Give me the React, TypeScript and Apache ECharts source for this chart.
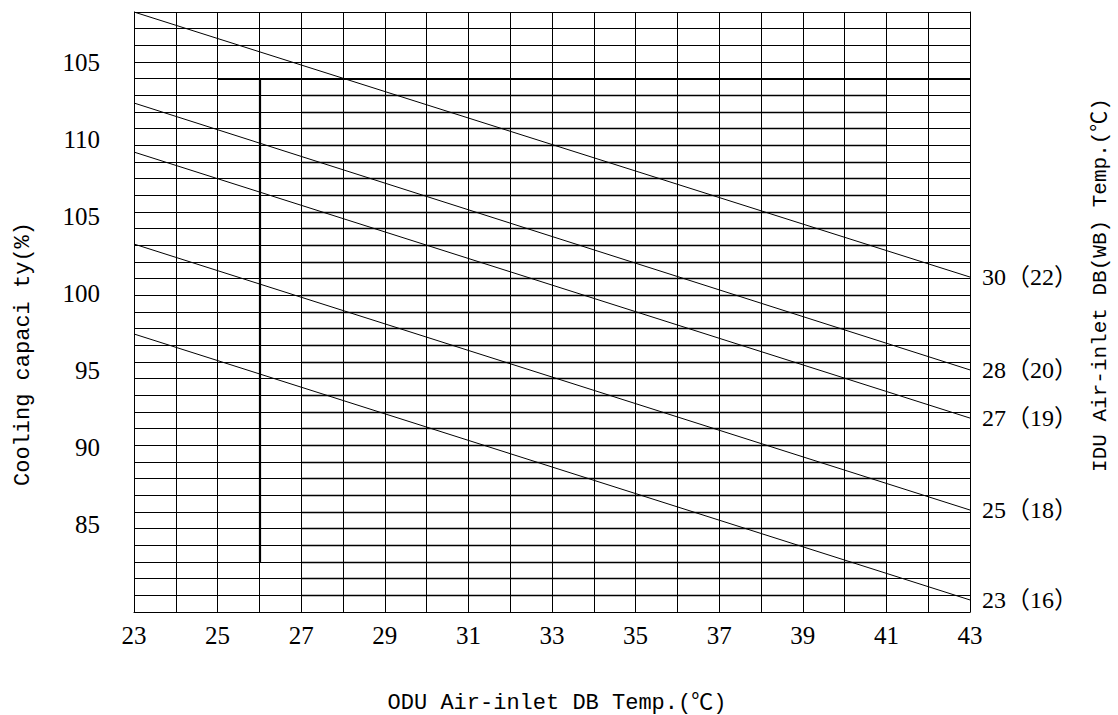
import React, { useEffect, useRef } from "react";
import * as echarts from "echarts";

// ---- data ----
const xMin = 23;
const xMax = 43;
const yMin = 79.36;
const yMax = 118.25;
const yLabelValues = [85, 90, 95, 100, 105, 110, 115];
const yLabelTexts = ["85", "90", "95", "100", "105", "110", "105"];
const curveNames = ["30（22）", "28（20）", "27（19）", "25（18）", "23（16）"];
const curveAtStart = [118.25, 112.35, 109.17, 103.21, 97.38]; // at 23 ℃
const curveAtEnd = [101.07, 95.05, 91.93, 85.97, 80.14]; // at 43 ℃
const gridRows = 36; // number of horizontal grid divisions

// emphasised (thicker) grid segments, in grid units [x1, row1, x2, row2]
const thickSegments: number[][] = [
  [25, 32, 43, 32],
  [26, 3, 26, 32],
];
const innerRowsFrom = 1;
const innerRowsTo = 31;
const innerXFrom = 27;
const innerXTo = 41;

const serif = "'Liberation Serif', 'DejaVu Serif', serif";
const mono = "'Liberation Mono', 'DejaVu Sans Mono', 'Noto Sans CJK SC', monospace";

export default function App() {
  const ref = useRef<HTMLDivElement>(null);
  useEffect(() => {
    if (!ref.current) return;
    const chart = echarts.init(ref.current, null, { renderer: "svg" });

    const innerSegs: any[] = [];
    for (let r = innerRowsFrom; r <= innerRowsTo; r++) {
      innerSegs.push({ coords: [[innerXFrom, r], [innerXTo, r]] });
    }
    const thick = thickSegments.map((s) => ({ coords: [[s[0], s[1]], [s[2], s[3]]] }));

    const curves = curveNames.map((name, i) => ({
      type: "line",
      name,
      xAxisIndex: 0,
      yAxisIndex: 0,
      data: [
        [xMin, curveAtStart[i]],
        [xMax, curveAtEnd[i]],
      ],
      symbol: "none",
      lineStyle: { color: "#000", width: 1 },
      endLabel: {
        show: true,
        formatter: "{a}",
        distance: 12,
        color: "#000",
        fontSize: 24,
        fontFamily: "'Liberation Serif', 'Noto Sans CJK SC', serif",
      },
      z: 5,
    }));

    chart.setOption({
      animation: false,
      backgroundColor: "#fff",
      grid: { left: 134, right: 148, top: 12, bottom: 103 },
      xAxis: {
        type: "value",
        min: xMin,
        max: xMax,
        interval: 1,
        axisLine: { show: true, lineStyle: { color: "#000", width: 1 } },
        axisTick: { show: false },
        axisLabel: {
          color: "#000",
          fontSize: 25,
          fontFamily: serif,
          margin: 11,
          formatter: (v: number) => ((v - xMin) % 2 === 0 ? String(v) : ""),
        },
        splitLine: { show: true, lineStyle: { color: "#000", width: 1 } },
      },
      yAxis: [
        {
          type: "value",
          min: yMin,
          max: yMax,
          axisLine: { show: true, lineStyle: { color: "#000", width: 1 } },
          axisTick: { show: false },
          splitLine: { show: false },
          axisLabel: {
            color: "#000",
            fontSize: 25,
            fontFamily: serif,
            margin: 34,
            customValues: yLabelValues,
            formatter: (v: number) => {
              const i = yLabelValues.indexOf(Math.round(v));
              return i >= 0 ? yLabelTexts[i] : "";
            },
          },
        },
        {
          type: "value",
          min: 0,
          max: gridRows,
          interval: 1,
          position: "right",
          axisLine: { show: true, lineStyle: { color: "#000", width: 1 } },
          axisTick: { show: false },
          axisLabel: { show: false },
          splitLine: { show: true, lineStyle: { color: "#000", width: 1 } },
        },
      ],
      series: [
        {
          type: "lines",
          coordinateSystem: "cartesian2d",
          xAxisIndex: 0,
          yAxisIndex: 1,
          data: innerSegs,
          lineStyle: { color: "#000", width: 1.3, opacity: 1 },
          silent: true,
          z: 3,
        },
        {
          type: "lines",
          coordinateSystem: "cartesian2d",
          xAxisIndex: 0,
          yAxisIndex: 1,
          data: thick,
          lineStyle: { color: "#000", width: 2.2, opacity: 1 },
          silent: true,
          z: 4,
        },
        ...curves,
      ],
      graphic: [
        {
          type: "text",
          x: 23,
          y: 354,
          rotation: Math.PI / 2,
          style: {
            text: "Cooling capaci ty(%)",
            fontSize: 22,
            fontFamily: mono,
            fill: "#000",
            align: "center",
            verticalAlign: "middle",
          },
        },
        {
          type: "text",
          x: 1100,
          y: 285,
          rotation: Math.PI / 2,
          style: {
            text: "IDU Air-inlet DB(WB) Temp.(℃)",
            fontSize: 21,
            fontFamily: mono,
            fill: "#000",
            align: "center",
            verticalAlign: "middle",
          },
        },
        {
          type: "text",
          x: 557,
          y: 703,
          style: {
            text: "ODU Air-inlet DB Temp.(℃)",
            fontSize: 22,
            fontFamily: mono,
            fill: "#000",
            align: "center",
            verticalAlign: "middle",
          },
        },
      ],
    });
    return () => chart.dispose();
  }, []);
  return (
    <div
      ref={ref}
      style={{ position: "fixed", left: 0, top: 0, width: 1118, height: 715, background: "#fff" }}
    />
  );
}
